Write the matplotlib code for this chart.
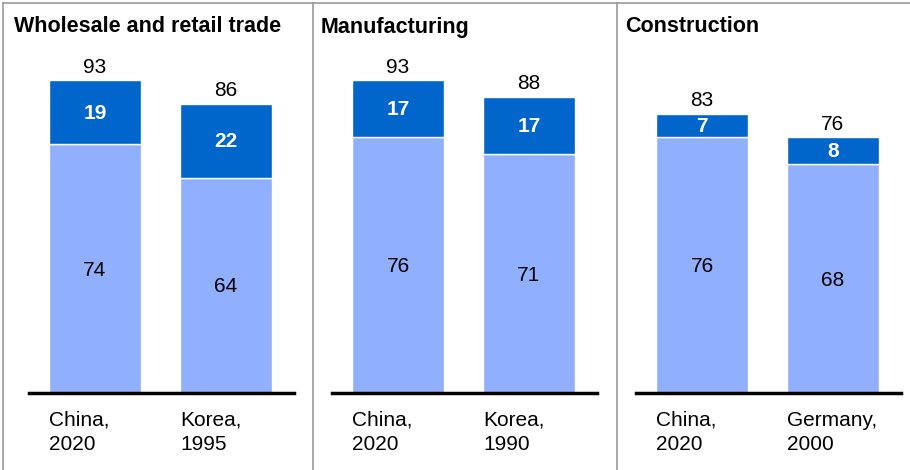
import matplotlib.pyplot as plt
from matplotlib.lines import Line2D

plt.rcParams['font.family'] = ['Liberation Sans', 'DejaVu Sans']

# data
titles = ["Wholesale and retail trade", "Manufacturing", "Construction"]
labels = [["China,\n2020", "Korea,\n1995"],
          ["China,\n2020", "Korea,\n1990"],
          ["China,\n2020", "Germany,\n2000"]]
base_vals = [[74, 64], [76, 71], [76, 68]]
top_vals = [[19, 22], [17, 17], [7, 8]]
totals = [[93, 86], [93, 88], [83, 76]]

light = '#91AFFF'
dark = '#0066CC'

W, H = 910, 470
fig = plt.figure(figsize=(W / 100, H / 100), dpi=100)

px_per_unit = 3.366
base_y = 393
top_y = 40
axes_left = [29, 332, 636]
axes_w = 265
gap = 131
bar_w = 92 / gap
title_x = [14, 321, 625]
fs = 15

for k in range(3):
    ax = fig.add_axes([axes_left[k] / W, (H - base_y) / H,
                       axes_w / W, (base_y - top_y) / H])
    off = (95 - 29) / gap
    ax.set_xlim(-off, -off + axes_w / gap)
    ax.set_ylim(0, (base_y - top_y) / px_per_unit)
    ax.axis('off')
    xs = [0, 1]
    ax.bar(xs, base_vals[k], width=bar_w, color=light, edgecolor='white', linewidth=1)
    ax.bar(xs, top_vals[k], width=bar_w, bottom=base_vals[k], color=dark,
           edgecolor='white', linewidth=1)
    ax.axhline(0, color='black', lw=2.5, clip_on=False)
    for i in xs:
        b, t, tot = base_vals[k][i], top_vals[k][i], totals[k][i]
        ax.text(i, b / 2 - 0.5, str(b), ha='center', va='center', fontsize=fs, color='black')
        ax.text(i, b + t / 2 - 0.4, str(t), ha='center', va='center', fontsize=fs,
                color='white', fontweight='bold')
        ax.text(i, b + t + 1.0, str(tot), ha='center', va='bottom',
                fontsize=fs, color='black')
        ax.text(i - bar_w / 2, -5.2, labels[k][i], ha='left', va='top',
                fontsize=fs, linespacing=1.36, clip_on=False)
    fig.text(title_x[k] / W, 1 - 27 / H, titles[k], ha='left', va='center',
             fontsize=15.5, fontweight='bold')

# frame lines
gray = '#999999'
fig.add_artist(Line2D([3 / W, 1], [1 - 3 / H, 1 - 3 / H], color=gray, lw=1.2))
fig.add_artist(Line2D([3 / W, 3 / W], [0, 1 - 3 / H], color=gray, lw=1.2))
for sx in [313, 617]:
    fig.add_artist(Line2D([sx / W, sx / W], [0, 1 - 3 / H], color=gray, lw=1.2))

fig.savefig('out.png', dpi=100, facecolor='white')
